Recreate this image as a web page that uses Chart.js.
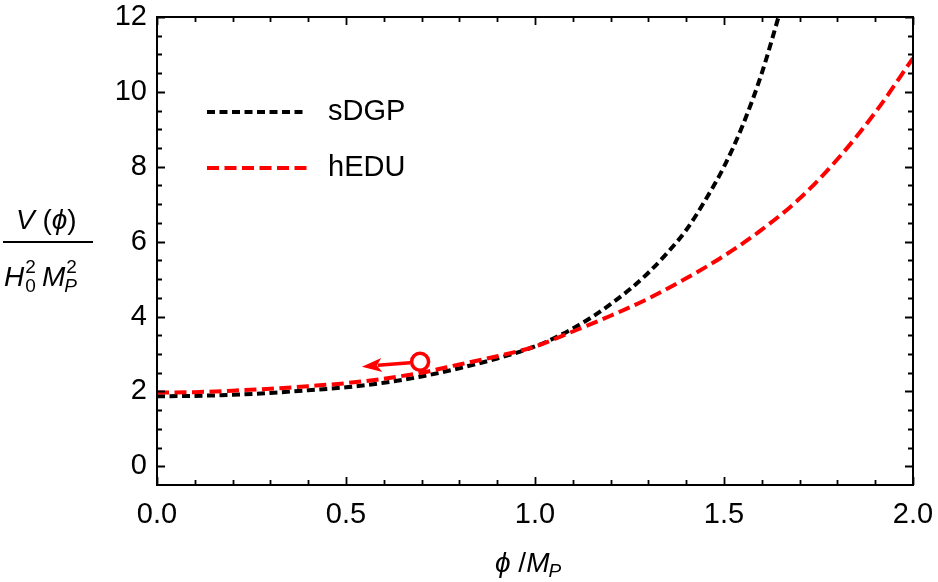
<!DOCTYPE html>
<html lang="en">
<head>
  <meta charset="UTF-8">
  <title>V(phi) : sDGP vs hEDU</title>
  <script src="https://cdn.jsdelivr.net/npm/chart.js@4"></script>
  <style>
    html, body { margin: 0; padding: 0; background: #fff; }
    #wrap { width: 938px; height: 582px; }
  </style>
</head>
<body>
<div id="wrap"><canvas id="potChart"></canvas></div>
<script>
  // sDGP curve (black, dotted)
  const sdgpPhi = [0, 0.1, 0.2, 0.3, 0.4, 0.5, 0.6, 0.7, 0.8, 0.9, 1.0, 1.05, 1.1, 1.15, 1.2, 1.25, 1.3, 1.35, 1.4, 1.45, 1.5, 1.55, 1.6, 1.65];
  const sdgpV   = [1.87, 1.88, 1.91, 1.96, 2.03, 2.11, 2.23, 2.40, 2.62, 2.88, 3.2, 3.42, 3.68, 3.98, 4.33, 4.72, 5.17, 5.70, 6.31, 7.1, 8.0, 9.12, 10.5, 12.2];

  // hEDU curve (red, dashed)
  const heduPhi = [0, 0.1, 0.2, 0.3, 0.4, 0.5, 0.6, 0.7, 0.8, 0.9, 1.0, 1.1, 1.2, 1.3, 1.4, 1.5, 1.6, 1.7, 1.8, 1.9, 2.0];
  const heduV   = [1.97, 1.98, 2.02, 2.07, 2.14, 2.22, 2.34, 2.50, 2.72, 2.94, 3.2, 3.6, 4.02, 4.48, 5.02, 5.62, 6.32, 7.15, 8.2, 9.45, 10.9];

  // open circle + arrow
  const markerPhi = 0.696, markerV = 2.79;
  const arrowTipPhi = 0.542, arrowTipV = 2.66;

  const xTickVals = [0, 0.5, 1.0, 1.5, 2.0];
  const yTickVals = [0, 2, 4, 6, 8, 10, 12];

  const FONT = '"Liberation Sans", Arial, Helvetica, sans-serif';

  const pts = (xs, ys) => xs.map((v, i) => ({x: v, y: ys[i]}));

  const noPad = s => { s.paddingLeft = 0; s.paddingRight = 0; s.paddingTop = 0; s.paddingBottom = 0; };

  // frame with inward ticks, legend, axis titles, arrow
  const decor = {
    id: 'decor',
    afterDatasetsDraw(chart) {
      const {ctx, scales: {x, y}} = chart;
      // arrow from the circle to the left
      const cx = x.getPixelForValue(markerPhi), cy = y.getPixelForValue(markerV);
      const tx = x.getPixelForValue(arrowTipPhi), ty = y.getPixelForValue(arrowTipV);
      const ang = Math.atan2(ty - cy, tx - cx);
      const sx = cx + 10 * Math.cos(ang), sy = cy + 10 * Math.sin(ang);
      const hl = 20, hw = 7;
      const bx = tx - hl * Math.cos(ang), by = ty - hl * Math.sin(ang);
      ctx.save();
      ctx.strokeStyle = '#ff0000';
      ctx.fillStyle = '#ff0000';
      ctx.lineWidth = 3.5;
      ctx.beginPath();
      ctx.moveTo(sx, sy);
      ctx.lineTo(bx + 4 * Math.cos(ang), by + 4 * Math.sin(ang));
      ctx.stroke();
      ctx.beginPath();
      ctx.moveTo(tx, ty);
      ctx.lineTo(bx - hw * Math.sin(ang), by + hw * Math.cos(ang));
      ctx.lineTo(bx + 5 * Math.cos(ang), by + 5 * Math.sin(ang));
      ctx.lineTo(bx + hw * Math.sin(ang), by - hw * Math.cos(ang));
      ctx.closePath();
      ctx.fill();
      ctx.restore();
    },
    afterDraw(chart) {
      const {ctx, chartArea: a, scales: {x, y}} = chart;
      ctx.save();
      ctx.strokeStyle = '#000';
      ctx.lineWidth = 2;
      ctx.strokeRect(a.left, a.top, a.right - a.left, a.bottom - a.top);

      ctx.lineWidth = 1.8;
      ctx.beginPath();
      for (let i = 0; i <= 20; i++) {
        const v = i / 10;
        const px = Math.round(x.getPixelForValue(v)) + 0.5;
        const len = (i % 5 === 0) ? 8 : 5;
        ctx.moveTo(px, a.bottom); ctx.lineTo(px, a.bottom - len);
        ctx.moveTo(px, a.top); ctx.lineTo(px, a.top + len);
      }
      for (let i = 0; i <= 24; i++) {
        const v = i / 2;
        const py = Math.round(y.getPixelForValue(v)) + 0.5;
        const len = (i % 4 === 0) ? 8 : 5;
        ctx.moveTo(a.left, py); ctx.lineTo(a.left + len, py);
        ctx.moveTo(a.right, py); ctx.lineTo(a.right - len, py);
      }
      ctx.stroke();

      // legend
      ctx.lineWidth = 4;
      ctx.lineCap = 'butt';
      ctx.setLineDash([8, 4.5]);
      ctx.beginPath(); ctx.moveTo(207, 112); ctx.lineTo(307, 112); ctx.stroke();
      ctx.strokeStyle = '#ff0000';
      ctx.setLineDash([12, 5.5]);
      ctx.beginPath(); ctx.moveTo(207, 168); ctx.lineTo(307, 168); ctx.stroke();
      ctx.setLineDash([]);
      ctx.fillStyle = '#000';
      ctx.font = '29px ' + FONT;
      ctx.textBaseline = 'middle';
      ctx.fillText('sDGP', 328, 112);
      ctx.fillText('hEDU', 328, 168);

      // y title: V(phi) / (H0^2 MP^2)
      ctx.textBaseline = 'alphabetic';
      const it = 'italic 28px ' + FONT, up = '28px ' + FONT, sm = 'italic 19px ' + FONT, smUp = '19px ' + FONT;
      const run = (parts, x0, base) => {
        let cx = x0;
        parts.forEach(p => {
          ctx.font = p[1];
          ctx.fillText(p[0], cx, base + (p[2] || 0));
          cx += ctx.measureText(p[0]).width;
        });
        return cx;
      };
      run([['V', it], [' (', up], ['\u03D5', it], [')', up]], 16, 229);
      ctx.fillRect(3, 241, 90, 2);
      let hx = run([['H', it]], 4, 286);
      run([['2', smUp, -13]], hx + 1, 286);
      run([['0', smUp, 6]], hx + 1, 286);
      let mx = run([['M', it]], 42, 286);
      run([['2', smUp, -13]], mx + 1, 286);
      run([['P', sm, 6]], mx - 1, 286);

      // x title: phi / M_P
      let px = run([['\u03D5', it], [' /', up], ['M', it]], 495, 572);
      run([['P', sm, 5]], px - 1, 572);
      ctx.restore();
    }
  };

  new Chart('potChart', {
    type: 'line',
    data: {
      datasets: [
        {
          label: 'marker',
          data: [{x: markerPhi, y: markerV}],
          showLine: false,
          pointRadius: 8.5,
          pointBorderWidth: 3.5,
          pointBackgroundColor: '#ffffff',
          pointBorderColor: '#ff0000',
          order: 0
        },
        {
          label: 'hEDU',
          data: pts(heduPhi, heduV),
          borderColor: '#ff0000',
          borderWidth: 4,
          borderDash: [12, 5.5],
          borderCapStyle: 'butt',
          pointRadius: 0,
          cubicInterpolationMode: 'monotone',
          order: 1
        },
        {
          label: 'sDGP',
          data: pts(sdgpPhi, sdgpV),
          borderColor: '#000000',
          borderWidth: 4,
          borderDash: [8, 4.5],
          borderCapStyle: 'butt',
          pointRadius: 0,
          cubicInterpolationMode: 'monotone',
          order: 2
        }
      ]
    },
    options: {
      responsive: true,
      maintainAspectRatio: false,
      animation: false,
      events: [],
      layout: { padding: { left: 0, top: 17, right: 25, bottom: 0 } },
      plugins: { legend: { display: false }, tooltip: { enabled: false } },
      scales: {
        x: {
          type: 'linear',
          min: 0, max: 2,
          afterBuildTicks: s => { s.ticks = xTickVals.map(v => ({value: v})); },
          afterFit: s => { s.height = 97; noPad(s); },
          grid: { display: false },
          border: { display: false },
          ticks: {
            color: '#000',
            padding: 5,
            maxRotation: 0,
            font: { family: FONT, size: 29 },
            callback: v => Number(v).toFixed(1)
          }
        },
        y: {
          type: 'linear',
          min: -0.5, max: 12,
          afterBuildTicks: s => { s.ticks = yTickVals.map(v => ({value: v})); },
          afterFit: s => { s.width = 157; noPad(s); },
          grid: { display: false },
          border: { display: false },
          ticks: {
            color: '#000',
            padding: 2,
            font: { family: FONT, size: 29 },
            callback: v => String(v)
          }
        }
      }
    },
    plugins: [decor]
  });
</script>
</body>
</html>
